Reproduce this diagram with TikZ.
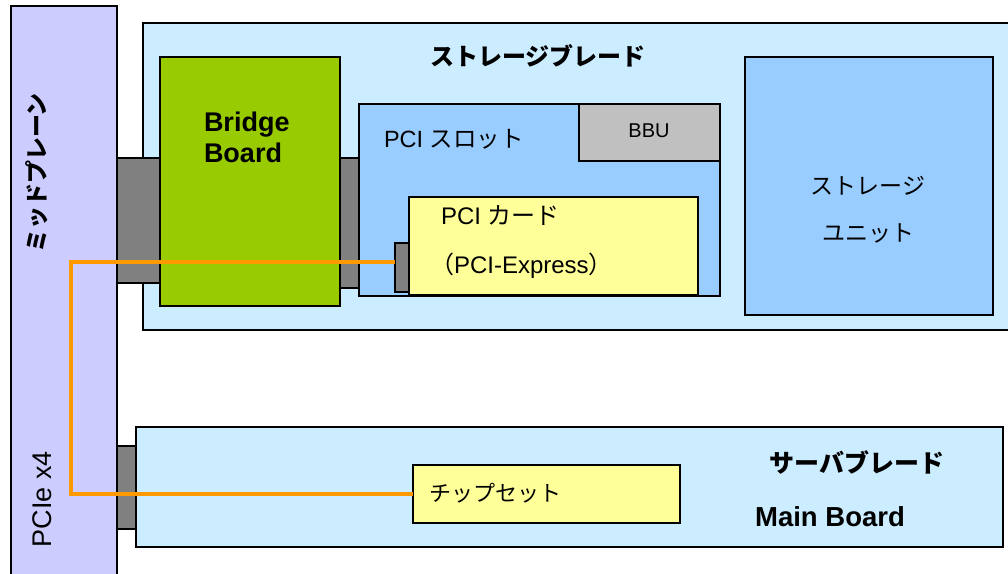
\documentclass[tikz,border=0pt]{standalone}
\usepackage{fontspec}
\setmainfont{Liberation Sans}
\newfontfamily\jp{Noto Sans CJK JP}
\definecolor{midc}{HTML}{CCCCFF}
\definecolor{bladec}{HTML}{CCECFF}
\definecolor{bridgec}{HTML}{99CC00}
\definecolor{connc}{HTML}{808080}
\definecolor{slotc}{HTML}{99CCFF}
\definecolor{bbuc}{HTML}{C0C0C0}
\definecolor{cardc}{HTML}{FFFF99}
\definecolor{wirec}{HTML}{FF9900}
\tikzset{
  box/.style={draw=black, line width=1.5pt, inner sep=0pt, outer sep=0pt, anchor=north west},
  conn/.style={box, fill=connc},
  lbl/.style={inner sep=0pt, outer sep=0pt, text=black},
  wire/.style={draw=wirec, line width=4pt},
}
\newcommand{\fs}[1]{\fontsize{#1}{#1}\selectfont}
\begin{document}
\begin{tikzpicture}[x=1pt,y=-1pt]
\clip (0,0) rectangle (1008,573);
\fill[white] (0,0) rectangle (1008,573);
% midplane
\node[box, fill=midc, minimum width=106pt, minimum height=580pt] (mid) at (11,6) {};
% storage blade
\node[box, fill=bladec, minimum width=880pt, minimum height=307pt] (sblade) at (143,23) {};
% server blade
\node[box, fill=bladec, minimum width=867pt, minimum height=120pt] (vblade) at (136,427) {};
% connectors
\node[conn, minimum width=43pt, minimum height=125pt] (connL) at (117,158) {};
\node[conn, minimum width=19pt, minimum height=130pt] (connR) at (340,158) {};
\node[conn, minimum width=19pt, minimum height=83pt] (connS) at (117,446) {};
% bridge board
\node[box, fill=bridgec, minimum width=180pt, minimum height=249pt] (bridge) at (160,57) {};
% PCI slot
\node[box, fill=slotc, minimum width=361pt, minimum height=192pt] (slot) at (359,104) {};
\node[box, fill=bbuc, minimum width=141pt, minimum height=57pt] (bbu) at (579,104) {};
\node[conn, minimum width=14pt, minimum height=49pt] (cardconn) at (395,243) {};
\node[box, fill=cardc, minimum width=289pt, minimum height=98pt] (card) at (409,197) {};
% storage unit
\node[box, fill=slotc, minimum width=248pt, minimum height=258pt] (sunit) at (745,57) {};
% chipset
\node[box, fill=cardc, minimum width=267pt, minimum height=58pt] (chip) at (413,465) {};
% wire
\coordinate (bend) at (71,262);
\draw[wire] (cardconn.west |- bend) -- (bend) |- (chip.west);
% labels
\node[lbl, font=\fs{24}\jp\bfseries] (t1) at (538,56) {ストレージブレード};
\node[lbl, font=\fontsize{27}{31}\selectfont\bfseries, align=left, anchor=west] (t2) at (204,137) {Bridge\\Board};
\node[lbl, font=\fs{23.5}, anchor=west] (t3) at (384,139) {PCI {\jp スロット}};
\node[lbl, font=\fs{20}] (t4) at (649,131) {BBU};
\node[lbl, font=\fs{24}, anchor=west] (t5) at (441,216) {PCI {\jp カード}};
\node[lbl, font=\fs{24}, anchor=west] (t6) at (430,266) {{\jp （}PCI-Express{\jp ）}};
\node[lbl, font=\fs{23}\jp] (t7) at (868,186) {ストレージ};
\node[lbl, font=\fs{23}\jp] (t8) at (868,233) {ユニット};
\node[lbl, font=\fs{25}\jp\bfseries] (t9) at (857,462) {サーバブレード};
\node[lbl, font=\fs{27.5}\bfseries] (t10) at (830,517) {Main Board};
\node[lbl, font=\fs{22}\jp, anchor=west] (t11) at (429,493) {チップセット};
\node[lbl, font=\fs{23}\jp\bfseries, rotate=90] (t12) at (37,173) {ミッドプレーン};
\node[lbl, font=\fs{27}, rotate=90] (t13) at (42,499) {PCIe x4};
\end{tikzpicture}
\end{document}
